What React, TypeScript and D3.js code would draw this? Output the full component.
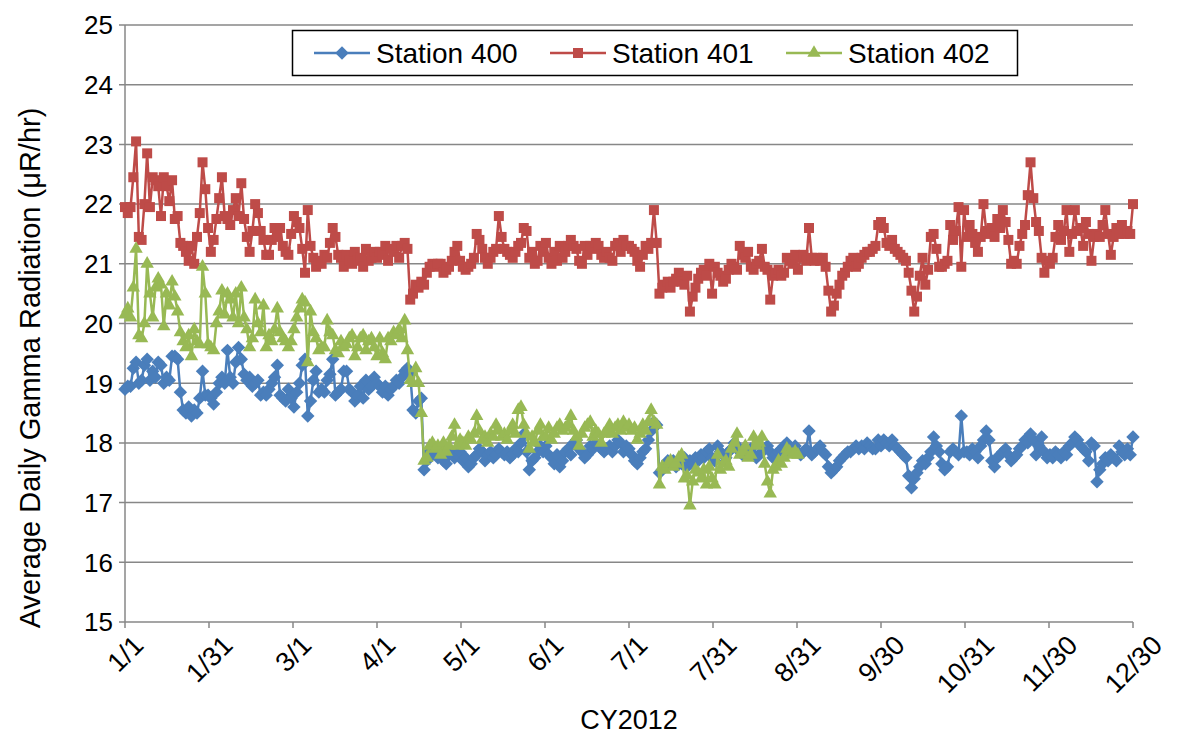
import { useEffect, useRef } from "react";
import * as d3 from "d3";

// daily averages, 1/1/2012 onward
const station400 = [
  18.9, 18.95, 18.95, 19.25, 19.35, 19.0, 19.05, 19.3, 19.4, 19.05, 19.2, 19.1, 19.35, 19.3, 19.0, 19.1, 19.05, 19.45, 19.45, 19.4, 18.85, 18.55, 18.5, 18.6, 18.45, 18.55, 18.5, 18.75, 19.2, 18.8,
  18.8, 18.75, 18.65, 18.85, 19.0, 19.1, 19.0, 19.55, 19.1, 19.0, 19.35, 19.6, 19.4, 19.15, 19.05, 19.1, 18.95, 19.0, 19.05, 18.8, 18.85, 18.8, 18.9, 19.0, 19.1, 19.3, 18.8, 18.75, 18.7, 18.9,
  18.75, 18.6, 18.85, 19.0, 19.3, 19.4, 18.45, 18.7, 19.05, 19.2, 18.85, 18.9, 18.85, 19.05, 19.15, 19.4, 18.8, 18.85, 18.9, 19.2, 19.2, 18.9, 18.85, 18.7, 18.8, 18.95, 18.75, 19.05, 18.9, 18.95, 19.1,
  19.0, 18.95, 18.85, 18.95, 18.8, 18.9, 18.95, 19.05, 19.0, 19.1, 19.2, 19.25, 19.15, 18.55, 18.5, 18.7, 18.75, 17.55, 17.7, 17.85, 17.8, 17.9, 17.75, 17.85, 17.7, 17.65, 17.8, 17.85, 17.75, 17.8,
  17.85, 17.7, 17.75, 17.6, 17.65, 17.75, 17.8, 17.9, 17.85, 17.7, 17.8, 17.85, 17.75, 17.8, 17.9, 17.85, 17.8, 17.85, 17.75, 17.8, 17.9, 17.85, 18.0, 18.15, 17.85, 17.55, 17.7, 17.75, 17.85, 17.95, 17.85,
  17.95, 17.8, 17.75, 17.65, 17.8, 17.6, 17.7, 17.85, 17.9, 17.8, 18.0, 18.05, 17.9, 17.85, 17.75, 17.8, 17.95, 17.9, 18.0, 17.95, 17.9, 17.85, 17.9, 17.95, 17.85, 17.95, 18.05, 18.0, 17.85, 17.95,
  17.9, 17.8, 17.7, 17.65, 17.75, 17.85, 17.9, 18.05, 18.2, 18.35, 18.3, 17.5, 17.55, 17.6, 17.7, 17.65, 17.7, 17.6, 17.7, 17.65, 17.75, 17.6, 17.7, 17.65, 17.75, 17.7, 17.8, 17.75, 17.85, 17.9,
  17.75, 17.7, 17.95, 17.85, 17.8, 17.75, 17.85, 17.9, 18.0, 17.95, 17.85, 17.8, 17.9, 17.85, 17.9, 17.8, 17.75, 17.8, 17.85, 17.9, 17.95, 17.85, 17.75, 17.8, 17.85, 17.9, 17.95, 18.0, 17.85, 17.9, 17.95,
  17.85, 17.8, 17.85, 17.9, 18.2, 17.8, 17.85, 17.9, 17.95, 17.85, 17.8, 17.6, 17.5, 17.55, 17.6, 17.7, 17.75, 17.8, 17.85, 17.85, 17.9, 17.95, 17.9, 17.95, 17.9, 18.0, 17.95, 17.9, 17.9, 18.05,
  17.95, 18.05, 18.0, 17.95, 18.05, 17.95, 17.9, 17.85, 17.8, 17.75, 17.45, 17.25, 17.4, 17.5, 17.6, 17.7, 17.65, 17.75, 17.85, 18.1, 17.95, 17.85, 17.65, 17.55, 17.6, 17.85, 17.9, 17.85, 17.8, 18.45, 17.85,
  17.85, 17.8, 17.9, 17.85, 17.75, 17.95, 18.05, 18.2, 18.05, 17.7, 17.6, 17.75, 17.8, 17.85, 17.9, 17.8, 17.7, 17.75, 17.8, 17.9, 17.95, 18.05, 18.0, 18.15, 18.05, 17.8, 17.95, 18.1, 17.85, 17.75,
  17.8, 17.75, 17.85, 17.8, 17.75, 17.85, 17.8, 17.95, 18.0, 18.1, 18.05, 17.95, 17.9, 17.85, 17.7, 18.0, 17.95, 17.35, 17.55, 17.65, 17.75, 17.7, 17.8, 17.75, 17.7, 17.95, 17.85, 17.8, 17.9, 17.8, 18.1,
];

const station401 = [
  21.95, 21.85, 21.95, 22.45, 23.05, 21.45, 21.4, 22.0, 22.85, 21.95, 22.45, 22.4, 22.3, 21.8, 22.45, 22.3, 22.05, 22.4, 21.75, 21.8, 21.35, 21.3, 21.2, 21.05, 21.3, 21.0, 21.45, 21.85, 22.7, 22.25,
  21.6, 21.2, 21.4, 21.75, 22.1, 22.45, 21.8, 21.75, 21.65, 21.9, 22.1, 21.8, 22.35, 21.75, 21.45, 21.2, 21.55, 22.0, 21.85, 21.55, 21.4, 21.15, 21.15, 21.4, 21.6, 21.45, 21.6, 21.3, 21.2, 21.15,
  21.5, 21.8, 21.7, 21.6, 21.25, 20.85, 21.9, 21.3, 21.1, 20.95, 21.05, 21.0, 21.15, 21.1, 21.35, 21.6, 21.45, 21.15, 21.1, 20.95, 21.15, 21.05, 21.0, 21.2, 21.05, 21.1, 20.95, 21.25, 21.05, 21.1, 21.2,
  21.1, 21.2, 21.15, 21.3, 21.05, 21.25, 21.2, 21.3, 21.1, 21.3, 21.35, 21.25, 20.4, 20.5, 20.65, 20.6, 20.7, 20.65, 20.85, 20.95, 21.0, 20.95, 21.0, 21.0, 20.85, 20.9, 20.95, 21.05, 21.2, 21.3,
  21.05, 20.95, 20.9, 20.95, 21.0, 21.1, 21.5, 21.4, 21.25, 21.1, 21.0, 21.1, 21.2, 21.25, 21.8, 21.45, 21.25, 21.2, 21.15, 21.1, 21.2, 21.3, 21.35, 21.6, 21.55, 21.1, 21.2, 21.0, 21.05, 21.3, 21.2,
  21.35, 21.1, 21.0, 21.2, 21.05, 21.3, 21.1, 21.2, 21.3, 21.4, 21.3, 21.25, 21.05, 21.0, 21.3, 21.15, 21.3, 21.25, 21.35, 21.3, 21.15, 21.1, 21.2, 21.1, 21.05, 21.3, 21.35, 21.2, 21.4, 21.3,
  21.3, 21.25, 21.2, 21.05, 20.95, 21.15, 21.3, 21.25, 21.35, 21.9, 21.35, 20.5, 20.6, 20.65, 20.7, 20.6, 20.7, 20.75, 20.85, 20.7, 20.65, 20.8, 20.2, 20.45, 20.6, 20.75, 20.85, 20.9, 20.8, 21.0,
  20.5, 20.95, 20.85, 20.8, 20.7, 20.75, 20.9, 21.0, 20.95, 20.9, 21.3, 21.15, 21.1, 21.2, 20.95, 20.9, 21.0, 21.05, 21.25, 20.95, 20.9, 20.4, 20.8, 20.85, 20.9, 20.8, 20.85, 21.1, 21.05, 21.0, 21.15,
  20.9, 21.1, 21.15, 21.05, 21.6, 21.1, 21.05, 21.1, 21.05, 21.1, 20.95, 20.55, 20.2, 20.3, 20.5, 20.65, 20.8, 20.85, 20.95, 21.05, 21.1, 20.95, 21.0, 21.1, 21.15, 21.2, 21.2, 21.25, 21.3, 21.65,
  21.7, 21.6, 21.35, 21.3, 21.4, 21.25, 21.2, 21.15, 21.1, 21.05, 20.85, 20.55, 20.2, 20.45, 20.8, 21.1, 20.65, 20.9, 21.45, 21.5, 21.25, 20.95, 20.95, 21.0, 21.05, 21.65, 21.4, 21.55, 21.95, 20.95, 21.9,
  21.45, 21.65, 21.5, 21.35, 21.2, 21.45, 22.0, 21.55, 21.5, 21.6, 21.45, 21.75, 21.6, 21.9, 21.7, 21.4, 21.0, 21.05, 21.0, 21.3, 21.5, 21.65, 22.15, 22.7, 22.1, 21.7, 21.55, 21.1, 20.85, 21.05,
  21.0, 21.1, 21.45, 21.65, 21.4, 21.55, 21.9, 21.2, 21.5, 21.9, 21.55, 21.6, 21.3, 21.7, 21.5, 21.05, 21.45, 21.5, 21.45, 21.65, 21.9, 21.5, 21.15, 21.45, 21.6, 21.5, 21.65, 21.5, 21.55, 21.5, 22.0,
];

// station 402 stops reporting at the end of August
const station402 = [
  20.15, 20.25, 20.1, 20.6, 21.25, 19.8, 19.75, 20.0, 21.0, 20.5, 20.1, 20.6, 20.75, 20.65, 19.95, 20.5, 20.3, 20.7, 20.45, 20.2, 19.85, 19.7, 19.6, 19.8, 19.45, 19.9, 19.7, 19.65, 20.95, 20.5,
  19.65, 19.6, 19.55, 20.0, 20.2, 20.55, 20.15, 20.5, 20.4, 20.1, 20.5, 20.0, 20.6, 20.1, 19.9, 19.6, 19.75, 20.4, 20.0, 19.85, 20.3, 19.6, 19.8, 19.7, 19.9, 20.25, 19.85, 19.75, 19.7, 19.6,
  19.7, 19.9, 20.1, 20.25, 20.4, 20.35, 19.35, 20.2, 19.85, 19.75, 19.55, 19.6, 19.6, 20.05, 19.85, 19.8, 19.55, 19.5, 19.7, 19.6, 19.65, 19.75, 19.8, 19.45, 19.6, 19.75, 19.8, 19.55, 19.7, 19.75, 19.6,
  19.45, 19.75, 19.5, 19.4, 19.75, 19.7, 19.85, 19.8, 19.9, 19.75, 20.05, 19.55, 19.05, 19.0, 19.25, 19.0, 18.5, 17.7, 17.75, 17.95, 18.0, 17.9, 17.95, 17.8, 18.0, 17.85, 17.95, 18.1, 18.3, 17.95,
  18.05, 18.0, 17.95, 18.1, 18.05, 18.15, 18.45, 18.2, 18.05, 18.1, 18.0, 18.15, 18.1, 18.3, 18.2, 18.1, 18.15, 18.05, 18.2, 18.3, 18.15, 18.55, 18.6, 18.3, 18.15, 17.9, 18.1, 18.0, 18.2, 18.3, 18.1,
  18.1, 18.25, 18.05, 18.15, 18.25, 18.3, 18.2, 18.25, 18.3, 18.45, 18.2, 18.1, 17.95, 18.15, 18.25, 18.3, 18.35, 18.1, 18.2, 18.15, 18.0, 18.15, 18.2, 18.3, 18.15, 18.25, 18.3, 18.2, 18.35, 18.25,
  18.3, 18.2, 18.25, 18.05, 18.15, 18.3, 18.2, 18.35, 18.55, 18.35, 18.3, 17.3, 17.6, 17.55, 17.65, 17.7, 17.6, 17.65, 17.75, 17.8, 17.4, 17.45, 16.95, 17.35, 17.55, 17.5, 17.4, 17.55, 17.3, 17.6,
  17.4, 17.3, 17.8, 17.55, 17.65, 17.7, 17.6, 17.9, 18.0, 18.15, 17.8, 17.85, 17.95, 17.75, 17.8, 18.1, 17.95, 18.0, 18.1, 17.65, 17.35, 17.15, 17.55, 17.6, 17.7, 17.65, 17.75, 17.9, 17.85, 17.8, 17.85, 17.8,
];

const seriesNames = ["Station 400", "Station 401", "Station 402"];
const seriesColors = ["#4A7EBB", "#BE4B48", "#98B954"];
const xTickLabels = ["1/1", "1/31", "3/1", "4/1", "5/1", "6/1", "7/1", "7/31", "8/31", "9/30", "10/31", "11/30", "12/30"];
const yTicks = [15, 16, 17, 18, 19, 20, 21, 22, 23, 24, 25];

const FONT = "'Liberation Sans', Arial, sans-serif";

export default function App() {
  const svgRef = useRef<SVGSVGElement>(null);

  useEffect(() => {
    const width = 1204, height = 740;
    const margin = { top: 25, right: 71, bottom: 118, left: 125 };
    const gridColor = "#878787";

    const svg = d3.select(svgRef.current);
    svg.selectAll("*").remove();
    svg.attr("width", width).attr("height", height).style("font-family", FONT);

    const start = Date.UTC(2012, 0, 1);
    const end = Date.UTC(2012, 11, 30);
    const day = 864e5;

    const x = d3.scaleUtc()
      .domain([new Date(start), new Date(end)])
      .range([margin.left, width - margin.right]);
    const y = d3.scaleLinear()
      .domain([15, 25])
      .range([height - margin.bottom, margin.top]);

    // gridlines + y ticks
    svg.append("g")
      .selectAll("line")
      .data(yTicks)
      .join("line")
        .attr("x1", margin.left - 6)
        .attr("x2", width - margin.right)
        .attr("y1", d => y(d))
        .attr("y2", d => y(d))
        .attr("stroke", gridColor)
        .attr("stroke-width", 1.5);

    svg.append("line")
      .attr("x1", margin.left).attr("x2", margin.left)
      .attr("y1", y(25)).attr("y2", y(15))
      .attr("stroke", gridColor).attr("stroke-width", 1.5);

    svg.append("g")
      .selectAll("text")
      .data(yTicks)
      .join("text")
        .attr("x", margin.left - 12)
        .attr("y", d => y(d))
        .attr("dy", "0.36em")
        .attr("text-anchor", "end")
        .style("font-size", "26px")
        .text(d => d);

    // x ticks, evenly split over the year
    const tickDates = d3.range(13).map(i => new Date(start + i * (end - start) / 12));
    svg.append("g")
      .selectAll("line")
      .data(tickDates)
      .join("line")
        .attr("x1", d => x(d))
        .attr("x2", d => x(d))
        .attr("y1", y(15))
        .attr("y2", y(15) + 6)
        .attr("stroke", gridColor)
        .attr("stroke-width", 1.5);

    const xl = svg.append("g");
    tickDates.forEach((d, i) => {
      const t = xl.append("text")
        .attr("text-anchor", "middle")
        .attr("dy", "0.36em")
        .style("font-size", "27px")
        .text(xTickLabels[i]);
      const w = (t.node() as SVGTextElement).getComputedTextLength();
      const ext = (w + 20) * Math.SQRT1_2;
      t.attr("transform", `translate(${x(d)},${633 + ext / 2}) rotate(-45)`);
    });

    // series
    const all = [station400, station401, station402];
    const symbols = [d3.symbol((d3 as any).symbolDiamond2 || d3.symbolDiamond, 115),
      d3.symbol(d3.symbolSquare, 100),
      d3.symbol(d3.symbolTriangle, 78)];

    const line = d3.line<number>()
      .x((d, i) => x(new Date(start + i * day)))
      .y(d => y(d));

    all.forEach((vals, k) => {
      const g = svg.append("g");
      g.append("path")
        .datum(vals)
        .attr("d", line)
        .attr("fill", "none")
        .attr("stroke", seriesColors[k])
        .attr("stroke-width", 2.5)
        .attr("stroke-linejoin", "round");
      g.selectAll("path.m")
        .data(vals)
        .join("path")
          .attr("class", "m")
          .attr("d", symbols[k])
          .attr("transform", (d, i) => `translate(${x(new Date(start + i * day))},${y(d)})`)
          .attr("fill", seriesColors[k]);
    });

    // legend
    const lg = svg.append("g");
    lg.append("rect")
      .attr("x", 292.5).attr("y", 30.5)
      .attr("width", 725).attr("height", 45)
      .attr("fill", "white")
      .attr("stroke", "black")
      .attr("stroke-width", 1.5);
    const legX = [314, 550, 786];
    seriesNames.forEach((name, k) => {
      const cx = legX[k];
      lg.append("line")
        .attr("x1", cx).attr("x2", cx + 56)
        .attr("y1", 53).attr("y2", 53)
        .attr("stroke", seriesColors[k]).attr("stroke-width", 2.5);
      lg.append("path")
        .attr("d", symbols[k])
        .attr("transform", `translate(${cx + 28},53)`)
        .attr("fill", seriesColors[k]);
      lg.append("text")
        .attr("x", cx + 62)
        .attr("y", 53)
        .attr("dy", "0.36em")
        .style("font-size", "28px")
        .text(name);
    });

    // axis titles
    svg.append("text")
      .attr("transform", `translate(30,368) rotate(-90)`)
      .attr("text-anchor", "middle")
      .attr("dy", "0.36em")
      .style("font-size", "29px")
      .text("Average Daily Gamma Radiation (μR/hr)");

    svg.append("text")
      .attr("x", (margin.left + width - margin.right) / 2)
      .attr("y", 729)
      .attr("text-anchor", "middle")
      .style("font-size", "27px")
      .text("CY2012");
  }, []);

  return <svg ref={svgRef} style={{ position: "absolute", left: 0, top: 0 }}></svg>;
}
